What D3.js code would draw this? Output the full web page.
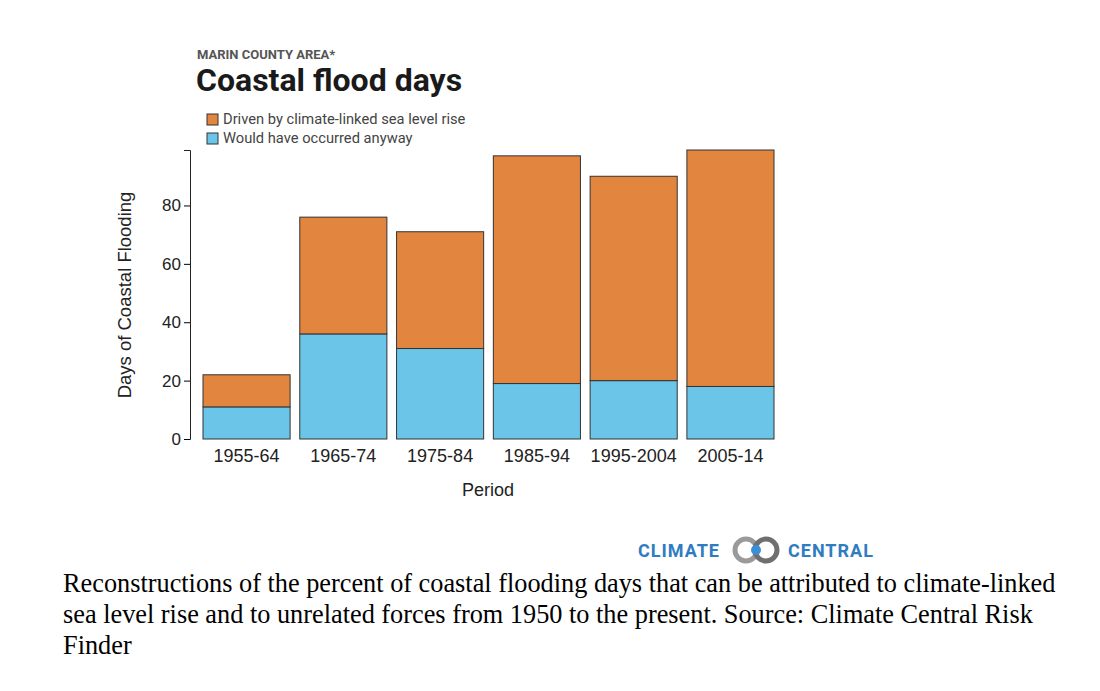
<!DOCTYPE html>
<html><head><meta charset="utf-8">
<script src="https://cdn.jsdelivr.net/npm/d3@7"></script>
<style>
body{margin:0;background:#fff;}
</style></head>
<body><svg id="c" width="1100" height="691"></svg>
<script>
const periods = ['1955-64','1965-74','1975-84','1985-94','1995-2004','2005-14'];
const anyway = [11, 36, 31, 19, 20, 18];
const climate = [11, 40, 40, 78, 70, 81];
const yTicks = [0, 20, 40, 60, 80];

const sans = '"Liberation Sans",Arial,sans-serif';
const rob = 'Roboto,sans-serif';
const svg = d3.select('#c');
const x = d3.scaleBand().domain(periods).range([203, 774]).paddingInner(0.1).paddingOuter(0);
const y = d3.scaleLinear().domain([0, 99]).range([439, 150]);

const data = periods.map((p, i) => ({p, a: anyway[i], c: climate[i]}));
const g = svg.append('g');
g.selectAll('.a').data(data).enter().append('rect')
  .attr('x', d => x(d.p)).attr('width', x.bandwidth())
  .attr('y', d => y(d.a)).attr('height', d => y(0) - y(d.a))
  .attr('fill', '#6ac5e8').attr('stroke', '#333').attr('stroke-width', 1);
g.selectAll('.c').data(data).enter().append('rect')
  .attr('x', d => x(d.p)).attr('width', x.bandwidth())
  .attr('y', d => y(d.a + d.c)).attr('height', d => y(d.a) - y(d.a + d.c))
  .attr('fill', '#e2853f').attr('stroke', '#333').attr('stroke-width', 1);

const ya = svg.append('g').attr('transform', 'translate(190,0)')
  .call(d3.axisLeft(y).tickValues(yTicks).tickSizeOuter(6));
ya.selectAll('text').attr('font-size', 17).attr('font-family', sans).attr('fill', '#222');
ya.select('.domain').attr('stroke', '#222');
const xa = svg.append('g').attr('transform', 'translate(0,439)')
  .call(d3.axisBottom(x).tickSize(0).tickPadding(10));
xa.select('.domain').remove();
xa.selectAll('text').attr('font-size', 18).attr('font-family', sans).attr('fill', '#222');

svg.append('text').attr('x', 488).attr('y', 496).attr('text-anchor', 'middle').attr('font-family', sans)
  .attr('font-size', 18).attr('fill', '#222').text('Period');
svg.append('text').attr('transform', 'translate(131,295) rotate(-90)').attr('text-anchor', 'middle')
  .attr('font-family', sans).attr('font-size', 18.5).attr('fill', '#222').text('Days of Coastal Flooding');

svg.append('text').attr('x', 197).attr('y', 59).attr('font-size', 13).attr('font-weight', 700)
  .attr('font-family', rob).attr('fill', '#555').text('MARIN COUNTY AREA*');
svg.append('text').attr('x', 196).attr('y', 91).attr('font-size', 32).attr('font-weight', 700)
  .attr('font-family', rob).attr('fill', '#1a1a1a').text('Coastal flood days');

const legend = [['Driven by climate-linked sea level rise', '#e2853f'], ['Would have occurred anyway', '#6ac5e8']];
legend.forEach((l, i) => {
  svg.append('rect').attr('x', 207).attr('y', 114 + i * 19).attr('width', 11).attr('height', 11)
    .attr('fill', l[1]).attr('stroke', '#333');
  svg.append('text').attr('x', 223).attr('y', 124 + i * 19).attr('font-size', 14.7).attr('font-family', rob)
    .attr('fill', '#444').text(l[0]);
});

// logo
svg.append('text').attr('x', 638).attr('y', 557).attr('font-size', 18).attr('font-weight', 700).attr('font-family', rob)
  .attr('fill', '#2f7cc1').attr('letter-spacing', 1).text('CLIMATE');
svg.append('circle').attr('cx', 746).attr('cy', 550).attr('r', 11).attr('fill', 'none').attr('stroke', '#9a9a9a').attr('stroke-width', 5);
svg.append('circle').attr('cx', 766).attr('cy', 550).attr('r', 11).attr('fill', 'none').attr('stroke', '#6f6f6f').attr('stroke-width', 5);
svg.append('circle').attr('cx', 756).attr('cy', 550).attr('r', 5).attr('fill', '#3b8fd6');
svg.append('text').attr('x', 788).attr('y', 557).attr('font-size', 18).attr('font-weight', 700).attr('font-family', rob)
  .attr('fill', '#2f7cc1').attr('letter-spacing', 1).text('CENTRAL');

const caption = ['Reconstructions of the percent of coastal flooding days that can be attributed to climate-linked',
  'sea level rise and to unrelated forces from 1950 to the present. Source: Climate Central Risk',
  'Finder'];
caption.forEach((t, i) => svg.append('text').attr('x', 63).attr('y', 592 + i * 31)
  .attr('font-family', '"Liberation Serif","Times New Roman",serif').attr('font-size', 26.3).attr('fill', '#000').text(t));
</script></body></html>
